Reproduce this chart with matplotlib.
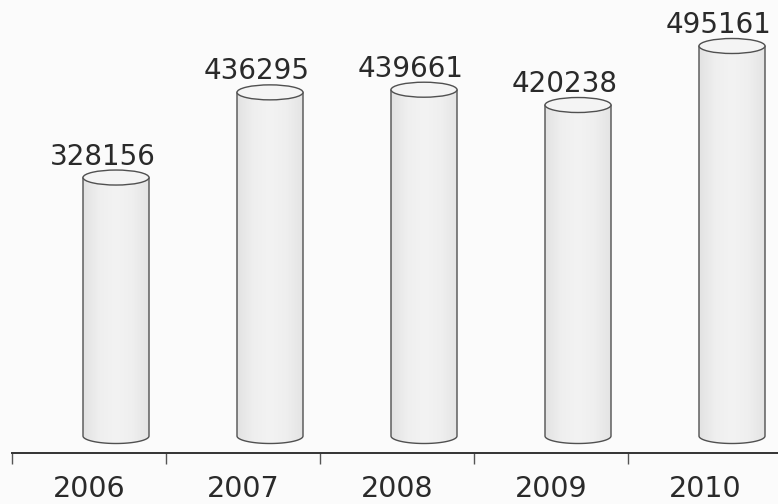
import numpy as np
import matplotlib
matplotlib.use("Agg")
import matplotlib.pyplot as plt
from matplotlib.patches import Ellipse, Polygon
from matplotlib.colors import LinearSegmentedColormap

years = ["2006", "2007", "2008", "2009", "2010"]
values = [328156, 436295, 439661, 420238, 495161]
value_labels = ["328156", "436295", "439661", "420238", "495161"]

W, H, DPI = 778, 504, 100
fig = plt.figure(figsize=(W / DPI, H / DPI), dpi=DPI)
bg = "#fbfbfb"
fig.patch.set_facecolor(bg)

# layout in pixels
left_px, axis_px = 12, 453
cat_px = 154.0
k = 390.0 / 495161  # px per unit
base_gap_px = 17     # cylinder base above axis line

ax = fig.add_axes([left_px / W, (H - axis_px) / H, (W - left_px) / W, axis_px / H])
ax.set_facecolor(bg)
ax.set_xlim(0, (W - left_px) / cat_px)
ax.set_ylim(-base_gap_px / k, (axis_px - base_gap_px) / k)

cw = 66 / cat_px          # cylinder width (category units)
eh = 15 / k               # ellipse height (value units)
off = 27 / cat_px         # 3D offset of cylinder to the right

cmap = LinearSegmentedColormap.from_list(
    "cyl", ["#e2e2e2", "#efefef", "#f3f3f3", "#efefef", "#e4e4e4"])
grad = np.linspace(0, 1, 256).reshape(1, -1)

edge = "#505050"
for i, v in enumerate(values):
    c = i + 0.5 + off
    x0, x1 = c - cw / 2, c + cw / 2
    t = np.linspace(np.pi, 2 * np.pi, 60)
    bx = c + (cw / 2) * np.cos(t)
    by = 0 + (eh / 2) * np.sin(t)
    pts = [(x0, v)] + list(zip(bx, by)) + [(x1, v)]
    body = Polygon(pts, closed=True, facecolor="none", edgecolor=edge, lw=1.0, zorder=3)
    ax.add_patch(body)
    im = ax.imshow(grad, cmap=cmap, aspect="auto",
                   extent=(x0, x1, -eh / 2, v), zorder=2)
    im.set_clip_path(body)
    top = Ellipse((c, v), cw, eh, facecolor="#f4f4f4", edgecolor=edge, lw=1.0, zorder=4)
    ax.add_patch(top)
    ax.text(c - 13 / cat_px, v + 13 / k, value_labels[i], ha="center", va="baseline",
            fontsize=20, color="#2a2a2a", family="DejaVu Sans", zorder=5)

for s in ["top", "right", "left"]:
    ax.spines[s].set_visible(False)
ax.spines["bottom"].set_color("#333333")
ax.spines["bottom"].set_linewidth(1.4)
ax.set_yticks([])
ax.set_xticks(np.arange(len(years)))
ax.set_xticklabels([])
ax.tick_params(axis="x", which="major", direction="out", length=8, width=1, color="#555555")
ax.set_xticks(np.arange(len(years)) + 0.5, minor=True)
ax.set_xticklabels(years, minor=True, fontsize=20.5, color="#2a2a2a", family="DejaVu Sans")
ax.tick_params(axis="x", which="minor", length=0, pad=16)

fig.savefig("out.png", dpi=DPI, facecolor=bg)
